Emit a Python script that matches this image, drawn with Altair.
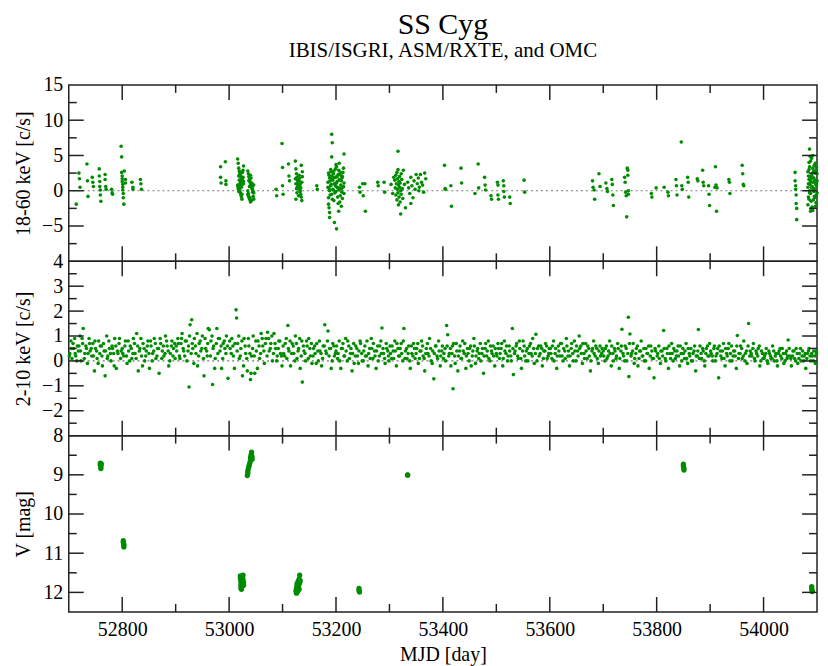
import altair as alt
import pandas as pd

GREEN = "#008c00"
FRAME = "#222222"
FONT = "Liberation Serif"
W = 751
H_TOP, H_MID, H_BOT = 177, 175, 177

X_DOMAIN = [52700, 54100]
X_MAJOR = [52800, 53000, 53200, 53400, 53600, 53800, 54000]
X_MINOR = [52900, 53100, 53300, 53500, 53700, 53900]

TOP_DOMAIN = [-10, 15]
TOP_LABELS = [15, 10, 5, 0, -5]
TOP_Y_MAJOR = [-5, 0, 5, 10]
TOP_Y_MINOR = [-7.5, -2.5, 2.5, 7.5, 12.5]

MID_DOMAIN = [-3, 4]
MID_LABELS = [4, 3, 2, 1, 0, -1, -2]
MID_Y_MAJOR = [-2, -1, 0, 1, 2, 3]
MID_Y_MINOR = [-2.5, -1.5, -0.5, 0.5, 1.5, 2.5, 3.5]

BOT_DOMAIN = [8, 12.5]
BOT_LABELS = [8, 9, 10, 11, 12]
BOT_Y_MAJOR = [9, 10, 11, 12]
BOT_Y_MINOR = [8.5, 9.5, 10.5, 11.5]

# IBIS/ISGRI 18-60 keV (MJD, c/s)
ISGRI_A = [(52714, -1.9), (52719, 2.5), (52720, 1.7), (52721, 0.5), (52734, 3.8), (52735, 1.4), (52736, -0.8),
           (52744, 1.9), (52745, 1.2), (52746, 0.6), (52757, 3.1), (52757, 2.1), (52758, 1.3), (52758, 0.6),
           (52759, 0.1), (52759, -0.6), (52760, -1.5), (52768, 2.3), (52768, 1.6), (52769, 0.6), (52770, 0.2),
           (52780, 0.2), (52781, -0.3), (52782, -0.5), (52798, 6.3), (52799, 4.8), (52799, 2.6), (52800, 2.1),
           (52800, 1.7), (52800, 1.3), (52801, 0.9), (52801, 0.5), (52801, 0.1), (52802, -0.4), (52802, -1.0),
           (52803, -1.9), (52804, 2.8), (52806, 1.6), (52806, 1.1), (52818, 1.2), (52820, 0.5), (52820, 0.2),
           (52834, 1.6), (52835, 1.0), (52836, 0.2)]
ISGRI_B = [(52984, 3.4), (52984, 1.9), (52985, 1.1), (52993, 4.1), (52994, 1.4), (52994, 0.9)]
ISGRI_C = [(53016, 4.5), (53017, 3.9), (53018, 3.2), (53019, 2.8), (53020, 2.5), (53021, 2.2), (53022, 2.0),
           (53023, 1.8), (53024, 1.6), (53025, 1.4), (53026, 1.2), (53027, 1.0), (53016, 0.8), (53017, 0.6),
           (53018, 0.4), (53019, 0.2), (53020, 0.0), (53021, -0.3), (53022, -0.6), (53023, -0.9), (53024, -1.2),
           (53025, 2.6), (53026, 1.9), (53027, 1.3), (53016, 0.7), (53017, 0.3), (53018, -0.1), (53019, 1.5),
           (53020, 2.3), (53021, 0.9), (53022, 1.1), (53023, 0.5), (53024, -0.5), (53025, 1.7), (53026, 2.9),
           (53027, 3.5), (53018, 2.1), (53022, 1.4), (53024, 0.9), (53020, 1.0)]
ISGRI_D = [(53035, 2.8), (53036, 2.4), (53037, 2.0), (53038, 1.6), (53039, 1.3), (53040, 1.0), (53041, 0.7),
           (53042, 0.5), (53043, 0.3), (53044, 0.1), (53045, -0.1), (53046, -0.3), (53035, -0.5), (53036, -0.7),
           (53037, -0.9), (53038, -1.1), (53039, -1.3), (53040, -1.6), (53041, 1.8), (53042, 1.1), (53043, 0.4),
           (53044, -0.2), (53045, -0.8), (53046, 0.8), (53035, 0.0), (53036, -0.4), (53037, 1.4), (53038, 0.6),
           (53039, -1.0), (53040, 2.2), (53042, -1.4), (53044, 0.9), (53046, -1.2)]
ISGRI_E = [(53088, 0.2), (53089, -0.7), (53099, 6.7), (53100, 3.3), (53100, 0.7), (53101, -0.5),
           (53111, 3.8), (53112, 2.1), (53113, 1.4)]
ISGRI_F = [(53124, 4.2), (53125, 3.1), (53126, 2.4), (53127, 1.9), (53128, 1.5), (53129, 1.1), (53130, 0.8),
           (53131, 0.5), (53132, 0.2), (53133, -0.1), (53134, -0.5), (53135, -0.9), (53136, -1.4), (53137, 2.7),
           (53124, 1.7), (53125, 1.0), (53126, 0.3), (53127, -0.3), (53128, 0.6), (53129, 1.3), (53130, -0.7),
           (53131, 2.2), (53132, 1.8), (53133, 0.9), (53134, 0.4), (53135, 3.6), (53136, 1.2), (53125, -1.2),
           (53131, 1.4), (53137, 2.0)]
ISGRI_G = [(53164, 0.7), (53165, 0.2),
           (53185, 1.2), (53186, 2.5), (53187, 0.3), (53188, 1.8), (53189, -0.6), (53190, 3.0), (53191, 0.9),
           (53192, 2.1), (53193, -1.2), (53194, 1.5), (53195, 0.1), (53196, 2.8), (53197, 1.0), (53198, -0.3),
           (53199, 1.9), (53200, 0.6), (53201, 3.4), (53202, 1.3), (53203, -0.9), (53204, 2.3), (53205, 0.4),
           (53206, 1.6), (53207, -1.6), (53208, 2.6), (53209, 0.8), (53210, 1.4), (53211, -0.2), (53212, 2.0),
           (53213, 0.5), (53214, 3.2), (53215, 1.1), (53185, 0.5), (53186, -1.0), (53187, 2.2), (53188, 0.0),
           (53189, 1.4), (53190, 0.7), (53191, 2.7), (53192, -0.5), (53193, 1.7), (53194, 0.2), (53195, 2.4),
           (53196, -1.4), (53197, 1.9), (53198, 0.9), (53199, 3.1), (53200, -0.1), (53201, 1.1), (53202, 2.0),
           (53203, 0.4), (53204, -1.8), (53205, 2.9), (53206, 0.1), (53207, 1.5), (53208, -0.7), (53209, 2.2),
           (53210, 0.3), (53211, 1.8), (53212, -1.1), (53213, 2.6), (53214, 0.6), (53215, -0.4),
           (53192, 8.0), (53193, 6.8), (53192, 4.8), (53215, 5.2), (53187, -2.4), (53188, -3.1), (53188, -3.8),
           (53197, -4.5), (53201, -5.4), (53205, -2.9), (53210, -2.2), (53186, -1.9), (53200, 3.7), (53206, 3.9)]
ISGRI_H = [(53244, 0.5), (53245, -0.2), (53250, 1.0), (53251, -0.7), (53254, 1.0), (53255, -2.9),
           (53278, 1.2), (53279, 0.7), (53290, 1.2), (53291, -0.2),
           (53310, 1.5), (53311, 0.4), (53312, 2.2), (53312, -0.6), (53313, 1.0), (53314, 2.6), (53314, -1.3),
           (53315, 0.2), (53315, 1.7), (53316, -0.3), (53316, 3.0), (53317, 0.8), (53317, -2.0), (53316, 5.6),
           (53318, 1.3), (53318, -0.9), (53319, 2.0), (53319, 0.5), (53320, -1.6), (53320, 1.1), (53321, -3.3),
           (53321, 0.0), (53322, 2.4), (53322, -0.5), (53323, 1.6), (53324, 0.3), (53325, -1.1), (53326, 2.9),
           (53328, 0.9), (53330, -2.4), (53334, 1.2), (53336, 0.4), (53338, -0.4), (53340, 1.9), (53342, 0.7),
           (53344, -1.0), (53346, 1.4), (53348, 0.2), (53350, 2.3), (53352, 1.0), (53354, 1.8), (53356, 0.5),
           (53358, 2.3), (53360, 1.2), (53362, 0.8), (53364, -0.2), (53366, 2.5), (53368, 1.7), (53340, -1.8),
           (53355, 0.0), (53303, 0.9), (53306, -0.4), (53308, 1.9)]
ISGRI_I = [(53403, 3.6), (53404, 0.3), (53405, 0.2), (53415, 0.7), (53416, -2.2), (53434, 3.2), (53435, 1.1),
           (53460, -0.4), (53466, 3.8), (53467, 0.4), (53478, 1.9), (53479, 0.8), (53480, 0.1), (53490, -0.7),
           (53491, -1.2), (53502, 1.2), (53503, 0.8), (53503, -0.6), (53504, -1.2), (53513, 1.4), (53514, 0.7),
           (53514, -0.1), (53515, -0.9), (53525, -0.9), (53526, -1.8), (53552, 1.5), (53553, -0.2)]
ISGRI_J = [(53680, 1.4), (53681, 0.5), (53683, 0.1), (53684, -1.2), (53692, 2.4), (53694, 0.6), (53705, 1.1),
           (53707, 0.3), (53708, -0.1), (53716, 1.6), (53717, 0.9), (53718, -0.6), (53719, -2.1), (53740, 1.9),
           (53741, 1.2), (53742, -0.2), (53743, -0.7), (53745, 3.2), (53746, 2.9), (53746, 2.2), (53747, 0.0),
           (53747, -0.5), (53744, -3.7)]
ISGRI_K = [(53790, -0.4), (53791, -0.9), (53799, 0.4), (53814, 0.5), (53821, -0.2), (53822, -0.7), (53836, 1.6),
           (53837, 0.7), (53838, -0.6), (53846, 6.9), (53847, 0.7), (53848, 0.2), (53858, 1.9), (53859, 1.2),
           (53860, -0.9), (53876, 1.7), (53877, 1.4), (53886, 2.9), (53887, 1.2), (53888, 0.7), (53897, 0.7),
           (53898, -0.5), (53899, -2.1), (53909, 0.5), (53910, 3.4), (53911, 0.8), (53912, -2.9), (53913, 0.4),
           (53935, 1.6), (53936, 1.2), (53937, -0.4), (53960, 3.6), (53961, 2.4), (53962, 0.9), (53963, 0.7)]
ISGRI_L = [(54059, 2.6), (54059, 1.4), (54060, 0.7), (54060, 0.2), (54061, -0.6), (54061, -1.8), (54062, -2.5),
           (54062, -4.1),
           (54083, 0.5), (54084, 2.1), (54085, -1.2), (54086, 3.4), (54087, 0.9), (54088, -0.4), (54089, 1.7),
           (54090, 4.6), (54091, -2.3), (54092, 1.2), (54093, 0.1), (54094, 2.8), (54095, -0.8), (54096, 1.5),
           (54097, 3.9), (54098, -1.7), (54099, 0.7), (54100, 2.4), (54083, -2.0), (54084, 1.0), (54085, 3.0),
           (54086, -0.3), (54087, 2.0), (54088, 4.2), (54089, -1.5), (54090, 0.4), (54091, 1.9), (54092, -2.8),
           (54093, 2.6), (54094, -0.1), (54095, 3.6), (54096, -1.0), (54097, 1.1), (54098, 2.9), (54099, -0.6),
           (54100, 1.4), (54083, 2.7), (54084, -0.9), (54085, 1.6), (54086, 0.0), (54087, 4.9), (54088, 1.3),
           (54089, -2.5), (54090, 2.2), (54091, 0.6), (54092, 3.2), (54093, -1.3), (54094, 1.8), (54095, 0.3),
           (54096, 2.5), (54097, -2.2), (54098, 0.9), (54099, 3.3), (54100, -0.3), (54086, 5.9), (54085, 4.0),
           (54092, 5.0), (54088, -2.9)]

# ASM/RXTE 2-10 keV (MJD, c/s)
ASM_1 = [(52702, 0.3), (52704, 0.8), (52706, 0.1), (52709, 0.5), (52711, 0.9), (52713, 0.2), (52716, 0.6),
         (52718, 0.4), (52721, 1.0), (52723, 0.0), (52726, 0.7), (52727, 1.3), (52730, 0.3), (52733, 0.5),
         (52735, -0.1), (52738, 0.9), (52740, 0.4), (52743, 0.2), (52745, 0.7), (52748, -0.4), (52750, 0.5),
         (52753, 0.1), (52756, 0.8), (52758, 0.3), (52761, 0.6), (52763, -0.2), (52766, 0.4), (52768, -0.6),
         (52771, 1.0), (52773, 0.2), (52776, 0.5), (52779, 0.0), (52781, 0.6), (52784, 0.3), (52786, 0.9),
         (52789, -0.3), (52791, 0.4), (52794, 0.7), (52797, 0.1)]
ASM_2 = [(52800, 0.5), (52803, 0.2), (52806, 0.8), (52809, -0.1), (52812, 0.4), (52815, 0.6), (52818, 0.1),
         (52821, 0.9), (52824, 0.3), (52827, 1.1), (52830, -0.4), (52833, 0.5), (52836, 0.2), (52839, 0.7),
         (52842, 0.0), (52845, 0.4), (52848, 0.8), (52851, -0.3), (52854, 0.6), (52857, 0.3), (52860, 0.9),
         (52863, 0.1), (52866, 0.5), (52869, -0.5), (52872, 0.7), (52875, 0.4), (52878, 0.2), (52881, 1.0),
         (52884, 0.6), (52887, -0.2), (52890, 0.3), (52893, 0.8), (52896, 0.5), (52899, 0.1)]
ASM_3 = [(52901, 0.6), (52904, 0.9), (52907, 0.2), (52910, 0.7), (52912, 1.1), (52915, 0.4), (52918, 0.8),
         (52921, 0.0), (52924, 0.6), (52925, -1.05), (52927, 1.45), (52930, 1.65), (52932, 0.5), (52935, 0.9),
         (52938, 0.3), (52941, -0.2), (52944, 0.7), (52947, 0.4), (52950, 1.0), (52953, -0.6), (52956, 0.5),
         (52959, 0.2), (52961, 1.3), (52963, 1.25), (52966, 0.8), (52969, -0.95), (52971, 0.6), (52974, 0.1),
         (52977, 1.3), (52980, 0.9), (52983, 0.4), (52986, -0.3), (52989, 0.7), (52992, 0.5), (52995, 1.0),
         (52998, -0.7)]
ASM_4 = [(53001, 0.8), (53004, 0.3), (53007, 0.6), (53010, -0.3), (53013, 2.05), (53014, 1.72), (53016, 0.7),
         (53019, 0.1), (53022, 0.5), (53025, -0.6), (53028, 0.9), (53031, 0.3), (53034, -0.4), (53037, 0.6),
         (53040, -0.75), (53042, 0.2), (53045, 1.0), (53048, -0.5), (53051, 0.4), (53054, 0.8), (53057, 0.1),
         (53060, 1.1), (53063, 0.6), (53066, -0.1), (53069, 0.9), (53072, 1.15), (53075, 0.4), (53078, 0.7),
         (53081, 0.0), (53084, 1.1), (53087, 0.5), (53090, 0.2), (53093, 0.8), (53096, 0.3), (53099, -0.2)]
ASM_5 = [(53101, 0.6), (53104, 0.2), (53107, 0.9), (53110, 1.42), (53112, 0.4), (53115, -0.2), (53118, 0.7),
         (53121, 0.3), (53124, 1.0), (53127, 0.1), (53130, 0.5), (53133, -0.3), (53136, 0.8), (53137, -0.85),
         (53140, 0.4), (53143, 0.0), (53146, 0.6), (53149, 0.9), (53152, 0.2), (53155, -0.1), (53158, 0.5),
         (53161, 0.3), (53164, 0.7), (53167, 0.0), (53170, 0.4), (53173, -0.2), (53176, 0.6), (53179, 1.45),
         (53182, 0.3), (53185, 1.2), (53188, 0.5), (53191, -0.3), (53194, 0.7), (53197, 0.2)]
ASM_6 = [(53200, 0.4), (53203, 0.1), (53206, 0.8), (53209, -0.3), (53212, 0.5), (53215, 0.2), (53218, 0.9),
         (53221, 0.0), (53224, 0.6), (53227, 0.3), (53230, -0.4), (53233, 0.7), (53236, 0.2), (53239, 0.5),
         (53242, -0.1), (53245, 0.8), (53248, 0.3), (53251, 0.0), (53254, 0.6), (53257, 0.2), (53260, -0.2),
         (53263, 0.5), (53266, 0.9), (53269, 0.1), (53272, 0.4), (53275, -0.3), (53278, 0.6), (53281, 0.2),
         (53284, 0.8), (53286, 1.32), (53289, 0.3), (53292, -0.1), (53295, 0.5), (53298, 0.2)]
ASM_7 = [(53301, 0.6), (53304, 0.1), (53307, 0.4), (53310, 0.8), (53313, -0.2), (53316, 0.5), (53319, 0.2),
         (53322, 0.7), (53325, 0.0), (53327, 1.3), (53330, 0.4), (53333, 0.1), (53336, 0.6), (53339, -0.3),
         (53342, 0.3), (53345, 0.7), (53348, 0.1), (53351, 0.5), (53354, -0.1), (53357, 0.4), (53360, 0.8),
         (53363, 0.2), (53366, -0.4), (53369, 0.5), (53372, 0.3), (53375, 0.9), (53378, 0.0), (53381, 0.4),
         (53383, -0.72), (53386, 0.6), (53389, 0.2), (53392, 0.8), (53395, -0.2), (53398, 0.4)]
ASM_8 = [(53401, 0.1), (53404, 0.5), (53407, 1.42), (53409, 1.05), (53412, 0.3), (53415, -0.2), (53418, 0.6),
         (53419, -1.12), (53422, 0.2), (53425, 0.7), (53428, -0.4), (53431, 0.4), (53434, 0.1), (53437, 0.8),
         (53440, 0.3), (53443, -0.3), (53446, 0.5), (53449, 0.0), (53452, 0.6), (53455, 0.2), (53458, 0.9),
         (53461, -0.1), (53464, 0.4), (53467, 0.1), (53470, 0.7), (53473, 0.3), (53476, -0.5), (53479, 0.5),
         (53482, 0.2), (53485, 0.8), (53488, 0.0), (53491, 0.4), (53494, 0.6), (53497, -0.2)]
ASM_9 = [(53500, 0.3), (53503, 0.7), (53506, 0.1), (53509, 0.5), (53512, -0.2), (53515, 0.8), (53518, 0.3),
         (53521, 0.0), (53524, 0.6), (53527, 0.2), (53530, 1.3), (53532, -0.55), (53535, 0.4), (53538, 0.7),
         (53541, 0.1), (53544, 0.5), (53547, -0.3), (53550, 0.8), (53553, 0.2), (53556, 0.4), (53559, 0.0),
         (53562, 0.6), (53565, 0.3), (53568, 0.9), (53571, -0.1), (53574, 1.07), (53577, 0.5), (53580, 0.2),
         (53583, 0.6), (53586, -0.2), (53589, 0.4), (53592, 0.7), (53595, 0.1), (53598, 0.3)]
ASM_10 = [(53601, 0.5), (53604, 0.1), (53607, 0.8), (53610, 0.3), (53613, -0.3), (53616, 0.6), (53619, 0.2),
          (53622, 0.7), (53625, 0.0), (53628, 0.4), (53631, 0.9), (53634, 0.2), (53637, -0.2), (53640, 0.5),
          (53643, 0.3), (53646, 0.8), (53649, 0.0), (53652, 0.4), (53655, 1.0), (53658, 0.6), (53661, -0.1),
          (53664, 0.3), (53667, 0.7), (53670, 0.1), (53673, 0.5), (53676, -0.4), (53679, 0.4), (53682, 0.8),
          (53685, 0.2), (53688, 0.5), (53691, -0.1), (53694, 0.6), (53697, 0.3)]
ASM_11 = [(53700, 0.4), (53703, 0.0), (53706, 0.6), (53709, 0.2), (53712, 0.8), (53715, -0.2), (53718, 0.3),
          (53721, 0.5), (53724, 0.1), (53727, 0.7), (53730, -0.3), (53733, 0.4), (53735, 1.27), (53738, 0.2),
          (53741, 0.6), (53744, 0.0), (53747, 1.75), (53748, -0.63), (53750, 1.08), (53753, 0.3), (53756, 0.7),
          (53759, 0.1), (53762, 0.5), (53765, -0.2), (53768, 0.4), (53771, 0.8), (53774, 0.2), (53777, 0.0),
          (53780, 0.5), (53783, 0.3), (53786, -0.3), (53789, 0.6), (53792, 0.1), (53795, -0.68), (53798, 0.4)]
ASM_12 = [(53801, 0.2), (53804, 0.6), (53807, -0.1), (53810, 0.4), (53813, 1.22), (53816, 0.1), (53819, 0.5),
          (53822, -0.3), (53825, 0.3), (53828, 0.7), (53831, 0.0), (53834, 0.4), (53837, 0.2), (53840, 0.6),
          (53843, -0.2), (53846, 0.3), (53849, 0.5), (53852, 0.1), (53855, 0.7), (53858, -0.1), (53861, 0.3),
          (53864, 0.5), (53867, 0.0), (53870, 0.4), (53873, -0.4), (53876, 0.2), (53878, 1.26), (53881, 0.6),
          (53884, 0.1), (53887, 0.4), (53890, -0.2), (53893, 0.5), (53896, 0.2), (53899, 0.7)]
ASM_13 = [(53902, 0.3), (53905, 0.0), (53908, 0.6), (53911, 0.2), (53914, 0.5), (53916, -0.68), (53919, 0.4),
          (53922, 0.1), (53925, 0.7), (53928, -0.2), (53931, 0.3), (53934, 0.5), (53937, 0.0), (53940, 0.6),
          (53943, 0.2), (53946, 0.4), (53949, -0.3), (53951, 1.02), (53954, 0.3), (53957, 0.6), (53960, 0.1),
          (53963, 0.8), (53966, 0.3), (53969, -0.1), (53972, 1.5), (53975, 0.4), (53978, 0.2), (53981, 0.7),
          (53984, 0.0), (53987, 0.3), (53990, 0.5), (53993, -0.2), (53996, 0.4), (53999, 0.1)]
ASM_14 = [(54002, 0.2), (54005, 0.5), (54008, -0.1), (54011, 0.3), (54014, 0.1), (54017, 0.6), (54020, 0.0),
          (54023, 0.3), (54026, -0.2), (54029, 0.4), (54032, 0.2), (54035, 0.5), (54038, -0.1), (54041, 0.3),
          (54044, 0.1), (54046, 0.84), (54049, 0.2), (54052, -0.2), (54055, 0.4), (54058, 0.1), (54061, 0.5),
          (54064, -0.1), (54067, 0.3), (54070, 0.0), (54073, 0.4), (54076, 0.2), (54079, -0.3), (54082, 0.3),
          (54085, 0.5), (54088, 0.0), (54091, 0.2), (54094, 0.4), (54097, -0.1), (54099, 0.3)]
ASM_1B = [(52701, 0.2), (52705, 0.5), (52708, 0.7), (52712, 0.3), (52715, 0.0), (52719, 0.6), (52722, 0.4),
          (52725, 0.9), (52729, 0.1), (52732, 0.6), (52736, 0.3), (52739, 0.7), (52742, 0.5), (52746, 0.2),
          (52749, 0.8), (52752, 0.4), (52755, -0.1), (52759, 0.6), (52762, 0.2), (52765, 0.7), (52769, 0.4),
          (52772, 0.1), (52775, 0.8), (52778, 0.3), (52782, 0.5), (52785, -0.2), (52788, 0.6), (52792, 0.3),
          (52795, 0.9), (52798, 0.4)]
ASM_2B = [(52801, 0.3), (52805, 0.6), (52808, 0.2), (52811, 0.8), (52814, 0.0), (52817, 0.5), (52820, 0.3),
          (52823, 0.7), (52826, 0.1), (52829, 0.6), (52832, 0.4), (52835, 0.9), (52838, -0.2), (52841, 0.5),
          (52844, 0.2), (52847, 0.6), (52850, 0.3), (52853, 0.8), (52856, 0.0), (52859, 0.4), (52862, 0.7),
          (52865, 0.2), (52868, 0.5), (52871, 0.9), (52874, 0.1), (52877, 0.6), (52880, 0.3), (52883, 0.8),
          (52886, 0.4), (52889, 0.0), (52892, 0.6), (52895, 0.2), (52898, 0.7)]
ASM_3B = [(52902, 0.4), (52905, 0.7), (52908, 0.1), (52911, 0.9), (52914, 0.5), (52917, 0.2), (52920, 0.8),
          (52923, 0.4), (52926, 1.0), (52929, 0.3), (52931, 0.7), (52934, -0.1), (52937, 0.6), (52940, 1.1),
          (52943, 0.2), (52946, 0.8), (52949, 0.5), (52952, 0.1), (52955, 0.9), (52958, 0.4), (52960, 0.7),
          (52965, 0.2), (52968, 1.0), (52970, 0.5), (52973, -0.3), (52976, 0.7), (52979, 0.3), (52982, 0.9),
          (52985, 0.6), (52988, 0.1), (52991, 0.8), (52994, 0.3), (52997, 0.6)]
ASM_4B = [(53002, 0.5), (53005, 0.9), (53008, 0.2), (53011, 0.7), (53015, 0.4), (53018, 1.0), (53021, 0.2),
          (53024, 0.8), (53027, -0.2), (53030, 0.6), (53033, 0.1), (53036, 0.9), (53039, 0.3), (53041, -0.5),
          (53044, 0.5), (53047, 0.2), (53050, 0.8), (53053, -0.3), (53056, 0.6), (53059, 0.3), (53062, 0.9),
          (53065, 0.4), (53068, 0.7), (53071, 0.2), (53074, 0.9), (53077, 0.5), (53080, 1.0), (53083, 0.3),
          (53086, 0.7), (53089, 0.0), (53092, 0.5), (53095, 0.8), (53098, 0.2)]
ASM_5B = [(53102, 0.3), (53105, 0.7), (53108, 0.1), (53111, 0.5), (53114, 0.8), (53117, 0.3), (53120, 0.6),
          (53123, 0.0), (53126, 0.7), (53129, 0.4), (53132, 0.9), (53135, 0.2), (53139, 0.6), (53142, 0.3),
          (53145, 0.8), (53148, 0.1), (53151, 0.5), (53154, 0.7), (53157, 0.2), (53160, 0.6), (53163, -0.1),
          (53166, 0.4), (53169, 0.8), (53172, 0.3), (53175, 0.1), (53178, 0.6), (53181, 0.4), (53184, 0.8),
          (53187, 0.2), (53190, 0.5), (53193, 0.0), (53196, 0.6), (53199, 0.3)]
ASM_6B = [(53201, 0.6), (53204, 0.3), (53207, 0.0), (53210, 0.5), (53213, 0.7), (53216, 0.2), (53219, 0.4),
          (53222, 0.8), (53225, 0.1), (53228, 0.5), (53231, 0.3), (53234, -0.1), (53237, 0.6), (53240, 0.2),
          (53243, 0.4), (53246, 0.7), (53249, 0.0), (53252, 0.4), (53255, 0.2), (53258, 0.8), (53261, 0.3),
          (53264, 0.1), (53267, 0.5), (53270, 0.7), (53273, 0.2), (53276, 0.4), (53279, 0.0), (53282, 0.6),
          (53285, 0.3), (53288, 0.5), (53291, 0.1), (53294, 0.7), (53297, 0.4), (53299, 0.0)]
ASM_7B = [(53302, 0.3), (53305, 0.6), (53308, 0.1), (53311, 0.4), (53314, 0.7), (53317, 0.2), (53320, 0.5),
          (53323, 0.3), (53326, 0.8), (53329, 0.1), (53332, 0.5), (53335, 0.3), (53338, 0.0), (53341, 0.6),
          (53344, 0.2), (53347, 0.5), (53350, 0.3), (53353, 0.7), (53356, 0.1), (53359, 0.4), (53362, 0.6),
          (53365, 0.1), (53368, 0.3), (53371, 0.7), (53374, 0.2), (53377, 0.5), (53380, -0.1), (53384, 0.3),
          (53387, 0.6), (53390, 0.1), (53393, 0.4), (53396, 0.2), (53399, 0.6)]
ASM_8B = [(53402, 0.3), (53405, 0.0), (53408, 0.6), (53411, 0.2), (53414, 0.5), (53417, 0.3), (53420, 0.7),
          (53423, -0.1), (53426, 0.4), (53429, 0.2), (53432, 0.6), (53435, 0.1), (53438, 0.4), (53441, 0.7),
          (53444, 0.2), (53447, 0.3), (53450, 0.5), (53453, -0.2), (53456, 0.4), (53459, 0.6), (53462, 0.2),
          (53465, 0.5), (53468, 0.3), (53471, 0.0), (53474, 0.5), (53477, 0.2), (53480, 0.7), (53483, 0.4),
          (53486, 0.1), (53489, 0.6), (53492, 0.3), (53495, 0.2), (53498, 0.5)]
ASM_9B = [(53501, 0.2), (53504, 0.5), (53507, 0.3), (53510, 0.7), (53513, 0.1), (53516, 0.4), (53519, 0.6),
          (53522, 0.2), (53525, 0.4), (53528, 0.0), (53531, 0.5), (53534, 0.3), (53537, 0.6), (53540, 0.2),
          (53543, 0.8), (53546, 0.1), (53549, 0.4), (53552, 0.6), (53555, 0.0), (53558, 0.5), (53561, 0.3),
          (53564, 0.7), (53567, 0.2), (53570, 0.5), (53573, 0.3), (53576, 0.0), (53579, 0.6), (53582, 0.3),
          (53585, 0.5), (53588, 0.1), (53591, 0.4), (53594, 0.6), (53597, 0.2), (53599, 0.5)]
ASM_10B = [(53602, 0.3), (53605, 0.6), (53608, 0.0), (53611, 0.5), (53614, 0.2), (53617, 0.4), (53620, 0.7),
           (53623, 0.2), (53626, 0.5), (53629, 0.1), (53632, 0.6), (53635, 0.4), (53638, 0.2), (53641, 0.7),
           (53644, 0.0), (53647, 0.4), (53650, 0.6), (53653, 0.2), (53656, 0.5), (53659, 0.3), (53662, 0.7),
           (53665, 0.1), (53668, 0.4), (53671, 0.6), (53674, 0.2), (53677, 0.0), (53680, 0.5), (53683, 0.3),
           (53686, 0.6), (53689, 0.1), (53692, 0.4), (53695, 0.2), (53698, 0.5)]
ASM_11B = [(53701, 0.2), (53704, 0.5), (53707, 0.1), (53710, 0.4), (53713, 0.3), (53716, 0.6), (53719, 0.0),
           (53722, 0.4), (53725, 0.2), (53728, 0.5), (53731, 0.1), (53734, 0.6), (53737, 0.3), (53740, 0.0),
           (53743, 0.5), (53746, 0.3), (53749, 0.7), (53752, 0.2), (53755, 0.4), (53758, -0.1), (53761, 0.3),
           (53764, 0.6), (53767, 0.1), (53770, 0.4), (53773, 0.2), (53776, 0.5), (53779, 0.0), (53782, 0.3),
           (53785, 0.6), (53788, 0.2), (53791, 0.4), (53794, 0.1), (53797, 0.5)]
ASM_12B = [(53802, 0.3), (53805, 0.1), (53808, 0.4), (53811, 0.2), (53814, 0.5), (53817, 0.0), (53820, 0.3),
           (53823, 0.6), (53826, 0.1), (53829, 0.3), (53832, 0.5), (53835, 0.1), (53838, 0.4), (53841, 0.2),
           (53844, 0.6), (53847, 0.0), (53850, 0.3), (53853, 0.4), (53856, 0.1), (53859, 0.5), (53862, 0.2),
           (53865, 0.0), (53868, 0.3), (53871, 0.6), (53874, 0.2), (53877, 0.4), (53880, 0.1), (53883, 0.3),
           (53886, 0.5), (53889, 0.0), (53892, 0.3), (53895, 0.6), (53898, 0.2)]
ASM_13B = [(53901, 0.4), (53904, 0.2), (53907, 0.5), (53910, 0.0), (53913, 0.3), (53917, 0.6), (53920, 0.2),
           (53923, 0.4), (53926, 0.1), (53929, 0.5), (53932, 0.2), (53935, 0.7), (53938, 0.3), (53941, 0.0),
           (53944, 0.4), (53947, 0.2), (53950, 0.6), (53953, 0.1), (53956, 0.3), (53959, 0.5), (53962, 0.2),
           (53965, 0.0), (53968, 0.4), (53971, 0.6), (53974, 0.2), (53977, 0.3), (53980, 0.5), (53983, 0.1),
           (53986, 0.4), (53989, 0.2), (53992, 0.6), (53995, 0.0), (53998, 0.3)]
ASM_14B = [(54001, 0.1), (54004, 0.3), (54007, 0.0), (54010, 0.4), (54013, 0.2), (54016, 0.1), (54019, 0.4),
           (54022, 0.2), (54025, 0.0), (54028, 0.3), (54031, 0.5), (54034, 0.1), (54037, 0.3), (54040, 0.0),
           (54043, 0.4), (54045, 0.2), (54048, 0.5), (54051, 0.1), (54054, 0.2), (54057, 0.4), (54060, 0.0),
           (54063, 0.3), (54066, 0.1), (54069, 0.5), (54072, 0.2), (54075, 0.0), (54078, 0.3), (54081, 0.1),
           (54084, 0.4), (54087, 0.2), (54090, 0.3), (54093, 0.0), (54096, 0.2), (54098, 0.4)]

# OMC V magnitude (MJD, mag)
OMC_V = [(52759, 8.70), (52759, 8.74), (52760, 8.77), (52760, 8.80), (52760, 8.84), (52761, 8.72),
         (52802, 10.68), (52802, 10.72), (52803, 10.76), (52803, 10.80), (52803, 10.84),
         (53021, 11.58), (53021, 11.65), (53022, 11.72), (53022, 11.80), (53022, 11.88), (53023, 11.92),
         (53024, 11.62), (53024, 11.70), (53025, 11.76), (53025, 11.84), (53026, 11.56), (53026, 11.66),
         (53027, 11.74), (53027, 11.82),
         (53034, 9.02), (53035, 8.96), (53035, 8.90), (53036, 8.84), (53037, 8.78), (53038, 8.74), (53039, 8.68),
         (53040, 8.62), (53040, 8.56), (53041, 8.50), (53042, 8.46), (53042, 8.42), (53043, 8.54), (53043, 8.60),
         (53125, 11.96), (53126, 12.02), (53126, 11.90), (53127, 11.84), (53127, 11.78), (53128, 11.98),
         (53129, 11.72), (53129, 11.88), (53130, 11.82), (53131, 11.92), (53131, 11.66), (53132, 11.76),
         (53132, 11.56), (53133, 11.70),
         (53243, 11.90), (53243, 11.95), (53244, 11.99),
         (53334, 9.00), (53334, 9.01),
         (53850, 8.73), (53850, 8.78), (53851, 8.83), (53851, 8.88),
         (54090, 11.85), (54090, 11.90), (54091, 11.95), (54091, 11.98)]


def frame(points):
    return pd.DataFrame(points, columns=["mjd", "val"])


isgri = frame(ISGRI_A + ISGRI_B + ISGRI_C + ISGRI_D + ISGRI_E + ISGRI_F + ISGRI_G + ISGRI_H
              + ISGRI_I + ISGRI_J + ISGRI_K + ISGRI_L)
asm = frame(ASM_1 + ASM_2 + ASM_3 + ASM_4 + ASM_5 + ASM_6 + ASM_7 + ASM_8 + ASM_9 + ASM_10
            + ASM_11 + ASM_12 + ASM_13 + ASM_14
            + ASM_1B + ASM_2B + ASM_3B + ASM_4B + ASM_5B + ASM_6B + ASM_7B + ASM_8B + ASM_9B + ASM_10B
            + ASM_11B + ASM_12B + ASM_13B + ASM_14B)
omc = frame(OMC_V)

XSCALE = alt.Scale(domain=X_DOMAIN, nice=False, zero=False)


def yaxis(title, labels):
    return alt.Axis(title=title, values=labels, ticks=False, tickSize=0, domain=False, grid=False,
                    labelPadding=6, minExtent=26, maxExtent=26, titlePadding=9, labelOverlap=False,
                    labelFontSize=20, titleFontSize=20, labelColor="black", titleColor="black",
                    titleFontWeight="normal", labelFont=FONT, titleFont=FONT)


def tick_layers(yscale, yax, xax, y_major, y_minor, h):
    layers = []
    for vals, L in [(X_MAJOR, 15), (X_MINOR, 8)]:
        base = alt.Chart(pd.DataFrame({"mjd": vals})).mark_rule(color=FRAME, strokeWidth=1.5)
        xe = alt.X("mjd:Q", scale=XSCALE, axis=xax)
        layers.append(base.encode(x=xe, y=alt.value(0), y2=alt.value(L)))
        layers.append(base.encode(x=xe, y=alt.value(h), y2=alt.value(h - L)))
    for vals, L in [(y_major, 15), (y_minor, 8)]:
        base = alt.Chart(pd.DataFrame({"val": vals})).mark_rule(color=FRAME, strokeWidth=1.5)
        ye = alt.Y("val:Q", scale=yscale, axis=yax)
        layers.append(base.encode(y=ye, x=alt.value(0), x2=alt.value(L)))
        layers.append(base.encode(y=ye, x=alt.value(W), x2=alt.value(W - L)))
    return layers


def panel(df, yscale, title, labels, y_major, y_minor, h, size, zero_line, xax):
    yax = yaxis(title, labels)
    layers = []
    if zero_line:
        layers.append(alt.Chart(pd.DataFrame({"val": [0]})).mark_rule(
            color="#777777", strokeDash=[2, 3], strokeWidth=1.2).encode(
            y=alt.Y("val:Q", scale=yscale, axis=yax)))
    layers.append(alt.Chart(df).mark_circle(size=size, color=GREEN, opacity=1).encode(
        x=alt.X("mjd:Q", scale=XSCALE, axis=xax),
        y=alt.Y("val:Q", scale=yscale, axis=yax)))
    layers += tick_layers(yscale, yax, xax, y_major, y_minor, h)
    return alt.layer(*layers).properties(width=W, height=h)


top_scale = alt.Scale(domain=TOP_DOMAIN, nice=False, zero=False)
mid_scale = alt.Scale(domain=MID_DOMAIN, nice=False, zero=False)
bot_scale = alt.Scale(domain=BOT_DOMAIN, nice=False, zero=False, reverse=True)

bottom_xaxis = alt.Axis(title="MJD [day]", values=X_MAJOR, ticks=False, tickSize=0, domain=False,
                        grid=False, labelPadding=8, titlePadding=5, labelFlush=False, labelOverlap=False,
                        labelFontSize=20, titleFontSize=20, labelColor="black", titleColor="black",
                        titleFontWeight="normal", labelFont=FONT, titleFont=FONT, format="d")

top = panel(isgri, top_scale, "18-60 keV [c/s]", TOP_LABELS, TOP_Y_MAJOR, TOP_Y_MINOR, H_TOP, 13, True, None)
top = top.properties(title=alt.TitleParams(
    text="SS Cyg", subtitle="IBIS/ISGRI, ASM/RXTE, and OMC", font=FONT, subtitleFont=FONT,
    fontSize=30, subtitleFontSize=21, fontWeight="normal", subtitleFontWeight="normal",
    color="black", subtitleColor="black", anchor="middle", frame="group", offset=14, subtitlePadding=0))
mid = panel(asm, mid_scale, "2-10 keV [c/s]", MID_LABELS, MID_Y_MAJOR, MID_Y_MINOR, H_MID, 13, True, None)
bot = panel(omc, bot_scale, "V [mag]", BOT_LABELS, BOT_Y_MAJOR, BOT_Y_MINOR, H_BOT, 28, False, bottom_xaxis)

chart = alt.vconcat(top, mid, bot, spacing=0, bounds="flush").properties(
    padding={"left": 5, "top": 0, "right": 0, "bottom": 0}
).configure(font=FONT).configure_view(stroke=FRAME, strokeWidth=1.5).configure_axis(
    labelFont=FONT, titleFont=FONT, labelFontSize=20, titleFontSize=20
).configure_title(font=FONT, subtitleFont=FONT)

chart.save("out.html", embed_options={"renderer": "svg", "actions": False})
